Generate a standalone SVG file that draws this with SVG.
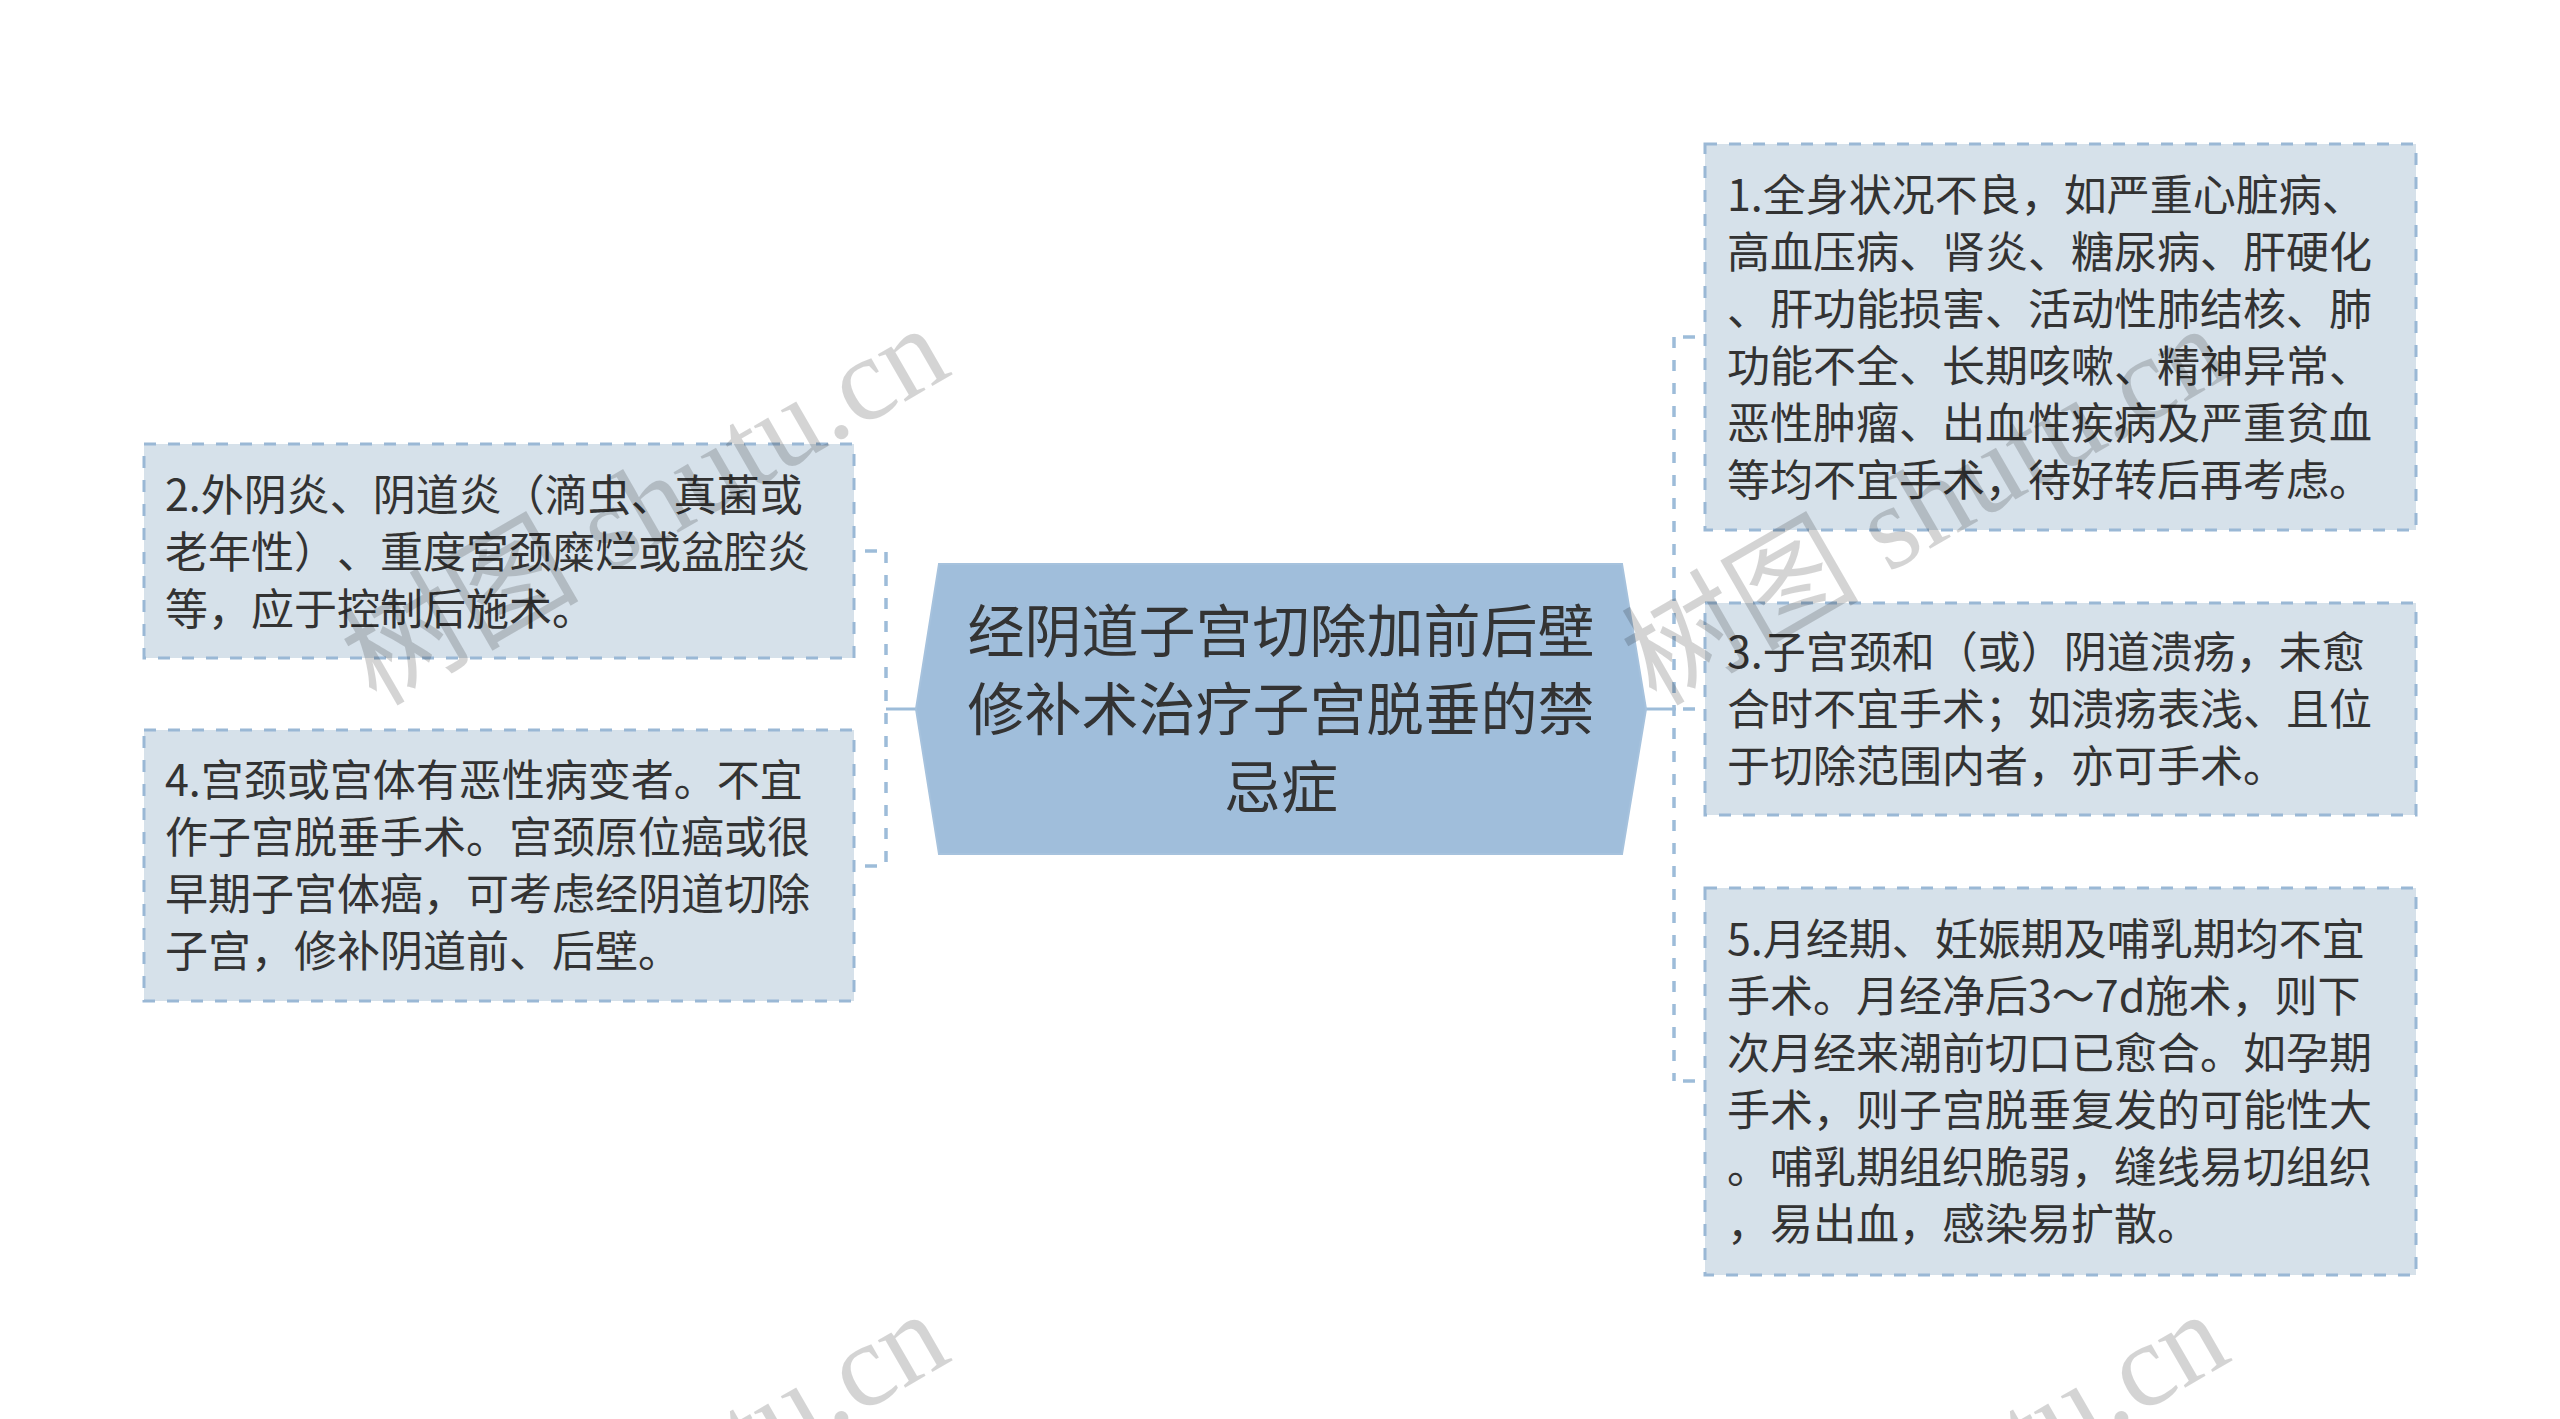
<svg xmlns="http://www.w3.org/2000/svg" width="2560" height="1419" viewBox="0 0 2560 1419">
<style>
.node rect{fill:#d6e1ea;stroke:#9ab8d5;stroke-width:3;stroke-dasharray:12 12}
.txt{font-family:"Noto Sans CJK SC","Noto Sans",sans-serif;font-size:43px;fill:#333333;text-spacing-trim:space-all}
.ctxt{font-family:"Noto Sans CJK SC","Noto Sans",sans-serif;font-size:57px;fill:#333333;text-anchor:middle}
.solid{fill:none;stroke:#9dbcd9;stroke-width:3}
.dash{fill:none;stroke:#9dbcd9;stroke-width:3.5;stroke-dasharray:11 12}
.tick{fill:none;stroke:#9dbcd9;stroke-width:3.5;stroke-dasharray:12 12;stroke-dashoffset:15}
.wm{font-family:"Liberation Serif","Noto Sans CJK SC",serif;font-size:119px;fill:#000000;fill-opacity:0.17}
</style>
<rect x="0" y="0" width="2560" height="1419" fill="#ffffff"/>
<g id="connectors">
<path class="solid" d="M886,709 H917"/>
<path class="dash" d="M886,552 V866"/>
<path class="tick" d="M886,551 H854"/>
<path class="tick" d="M886,866 H854"/>
<path class="solid" d="M1646,709 H1676"/>
<path class="dash" d="M1674,337 V1081"/>
<path class="tick" d="M1674,337 H1705"/>
<path class="tick" d="M1674,709 H1705"/>
<path class="tick" d="M1674,1081 H1705"/>
</g>
<g id="center">
<polygon points="939,564 1622,564 1646,709 1622,854 939,854 916,709" fill="#a0bedb" stroke="#a6c2dd" stroke-width="2"/>
<text class="ctxt" x="1281" y="652">经阴道子宫切除加前后壁</text>
<text class="ctxt" x="1281" y="730">修补术治疗子宫脱垂的禁</text>
<text class="ctxt" x="1281" y="808">忌症</text>
</g>
<g id="node2" class="node">
<rect x="144" y="444" width="710" height="214"/>
<text class="txt" x="165" y="511">2.外阴炎、阴道炎（滴虫、真菌或</text>
<text class="txt" x="165" y="568">老年性）、重度宫颈糜烂或盆腔炎</text>
<text class="txt" x="165" y="625">等，应于控制后施术。</text>
</g>
<g id="node4" class="node">
<rect x="144" y="730" width="710" height="271"/>
<text class="txt" x="165" y="796">4.宫颈或宫体有恶性病变者。不宜</text>
<text class="txt" x="165" y="853">作子宫脱垂手术。宫颈原位癌或很</text>
<text class="txt" x="165" y="910">早期子宫体癌，可考虑经阴道切除</text>
<text class="txt" x="165" y="967">子宫，修补阴道前、后壁。</text>
</g>
<g id="node1" class="node">
<rect x="1705" y="144" width="711" height="386"/>
<text class="txt" x="1727" y="211">1.全身状况不良，如严重心脏病、</text>
<text class="txt" x="1727" y="268">高血压病、肾炎、糖尿病、肝硬化</text>
<text class="txt" x="1727" y="325">、肝功能损害、活动性肺结核、肺</text>
<text class="txt" x="1727" y="382">功能不全、长期咳嗽、精神异常、</text>
<text class="txt" x="1727" y="439">恶性肿瘤、出血性疾病及严重贫血</text>
<text class="txt" x="1727" y="496">等均不宜手术，待好转后再考虑。</text>
</g>
<g id="node3" class="node">
<rect x="1705" y="603" width="711" height="212"/>
<text class="txt" x="1727" y="668">3.子宫颈和（或）阴道溃疡，未愈</text>
<text class="txt" x="1727" y="725">合时不宜手术；如溃疡表浅、且位</text>
<text class="txt" x="1727" y="782">于切除范围内者，亦可手术。</text>
</g>
<g id="node5" class="node">
<rect x="1705" y="888" width="711" height="387"/>
<text class="txt" x="1727" y="955">5.月经期、妊娠期及哺乳期均不宜</text>
<text class="txt" x="1727" y="1012">手术。月经净后3～7d施术，则下</text>
<text class="txt" x="1727" y="1069">次月经来潮前切口已愈合。如孕期</text>
<text class="txt" x="1727" y="1126">手术，则子宫脱垂复发的可能性大</text>
<text class="txt" x="1727" y="1183">。哺乳期组织脆弱，缝线易切组织</text>
<text class="txt" x="1727" y="1240">，易出血，感染易扩散。</text>
</g>
<g id="watermark">
<text class="wm" transform="translate(376,707) rotate(-30)">树图 shutu.cn</text>
<text class="wm" transform="translate(1656,707) rotate(-30)">树图 shutu.cn</text>
<text class="wm" transform="translate(376,1693) rotate(-30)">树图 shutu.cn</text>
<text class="wm" transform="translate(1656,1693) rotate(-30)">树图 shutu.cn</text>
</g>
</svg>
